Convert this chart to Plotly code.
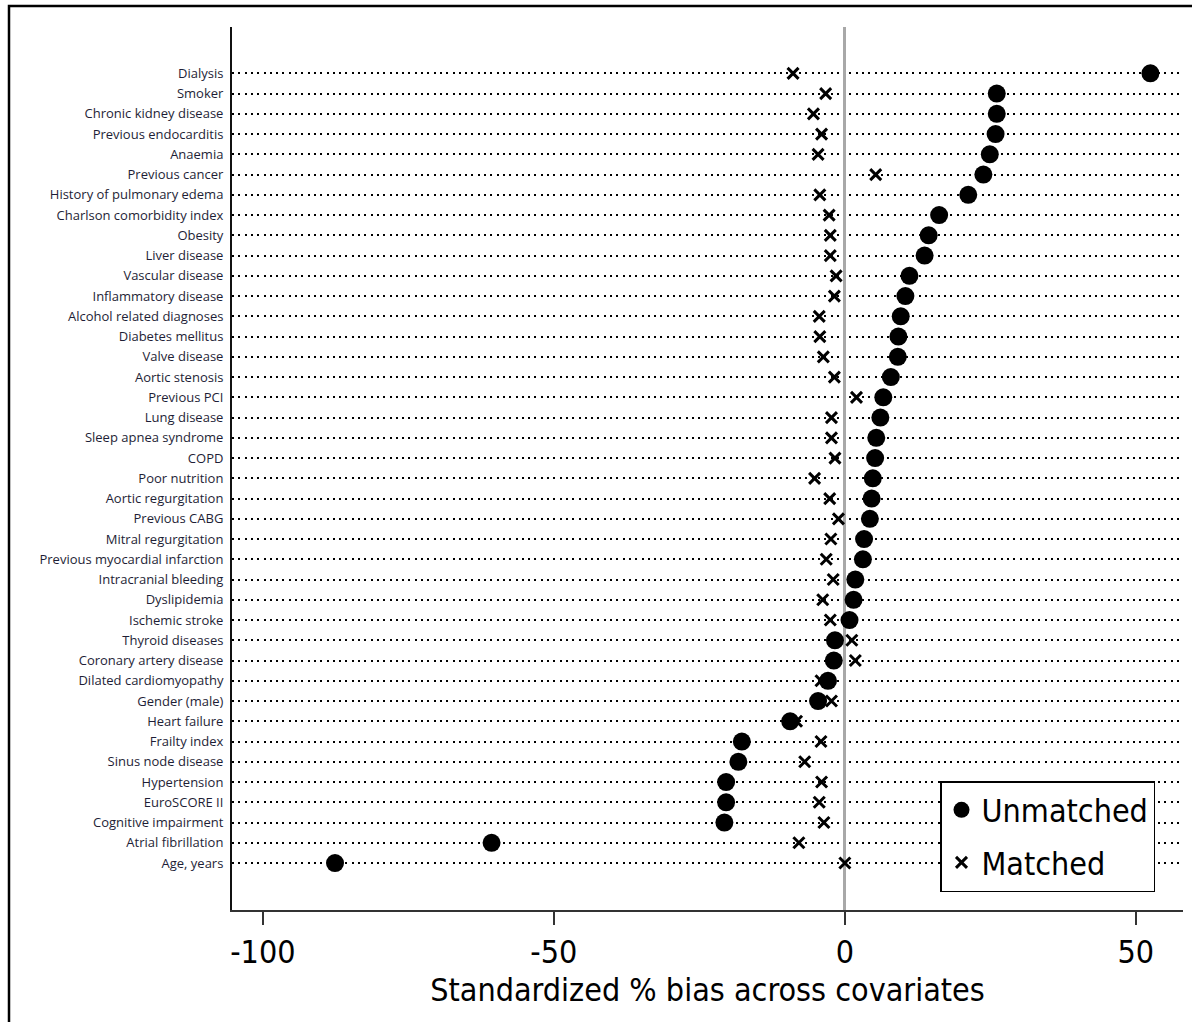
import plotly.graph_objects as go

# Covariates, listed top to bottom as in the chart
covariates = [
    "Dialysis", "Smoker", "Chronic kidney disease", "Previous endocarditis", "Anaemia",
    "Previous cancer", "History of pulmonary edema", "Charlson comorbidity index", "Obesity",
    "Liver disease", "Vascular disease", "Inflammatory disease", "Alcohol related diagnoses",
    "Diabetes mellitus", "Valve disease", "Aortic stenosis", "Previous PCI", "Lung disease",
    "Sleep apnea syndrome", "COPD", "Poor nutrition", "Aortic regurgitation", "Previous CABG",
    "Mitral regurgitation", "Previous myocardial infarction", "Intracranial bleeding",
    "Dyslipidemia", "Ischemic stroke", "Thyroid diseases", "Coronary artery disease",
    "Dilated cardiomyopathy", "Gender (male)", "Heart failure", "Frailty index",
    "Sinus node disease", "Hypertension", "EuroSCORE II", "Cognitive impairment",
    "Atrial fibrillation", "Age, years",
]

unmatched = [
    52.5, 26.1, 26.1, 25.9, 24.9, 23.8, 21.2, 16.2, 14.4, 13.7,
    11.1, 10.4, 9.6, 9.2, 9.1, 7.9, 6.6, 6.1, 5.4, 5.2,
    4.8, 4.6, 4.3, 3.3, 3.1, 1.8, 1.5, 0.8, -1.7, -1.9,
    -2.9, -4.6, -9.4, -17.7, -18.3, -20.4, -20.4, -20.7, -60.7, -87.6,
]

matched = [
    -8.9, -3.3, -5.4, -4.0, -4.6, 5.3, -4.3, -2.7, -2.5, -2.5,
    -1.5, -1.8, -4.4, -4.3, -3.7, -1.8, 2.0, -2.3, -2.3, -1.7,
    -5.2, -2.6, -1.1, -2.4, -3.2, -2.0, -3.8, -2.5, 1.2, 1.8,
    -4.1, -2.3, -8.3, -4.1, -6.9, -4.0, -4.4, -3.6, -7.9, 0.0,
]

x_ticks = [-100, -50, 0, 50]
x_title = "Standardized % bias across covariates"

W, H = 1192, 1022
ML, MR, MT, MB = 232, 9, 27, 112
PW, PH = W - ML - MR, H - MT - MB

def px_to_paper_x(px):
    return (px - ML) / PW

def px_to_paper_y(py):
    return (H - MB - py) / PH

narrow = "Liberation Sans Narrow, Arial Narrow, DejaVu Sans Condensed, sans-serif"

fig = go.Figure()

fig.add_trace(go.Scatter(
    x=matched, y=covariates, mode="markers", name="Matched",
    legendgroup="m", legendrank=2,
    marker=dict(symbol="x-thin", size=11, color="black",
                line=dict(width=3, color="black")),
    hoverinfo="skip",
))
fig.add_trace(go.Scatter(
    x=unmatched, y=covariates, mode="markers", name="Unmatched",
    legendgroup="u", legendrank=1,
    marker=dict(symbol="circle", size=18, color="black", line=dict(width=0)),
    hoverinfo="skip",
))

fig.update_layout(
    width=W, height=H,
    margin=dict(l=ML, r=MR, t=MT, b=MB, pad=0),
    paper_bgcolor="white", plot_bgcolor="white",
    showlegend=True,
    legend=dict(
        x=px_to_paper_x(940), y=px_to_paper_y(781), xanchor="left", yanchor="top",
        bgcolor="white", bordercolor="black", borderwidth=1.5,
        font=dict(family=narrow, size=32, color="black"),
        tracegroupgap=8, itemsizing="trace",
    ),
    xaxis=dict(
        range=[-105.3, 58.1], tickvals=x_ticks, ticktext=[str(v) for v in x_ticks],
        ticks="outside", ticklen=13, tickwidth=1.5, tickcolor="#333",
        showline=True, linecolor="#333", linewidth=2,
        showgrid=False,
        zeroline=True, zerolinecolor="#a8a8a8", zerolinewidth=2.5,
        tickfont=dict(family=narrow, size=32, color="black"),
        title=dict(text=x_title, font=dict(family=narrow, size=32, color="black"),
                   standoff=0),
    ),
    yaxis=dict(
        type="category", categoryorder="array", categoryarray=covariates[::-1],
        range=[-2.32, 41.29],
        showline=True, linecolor="#111", linewidth=2,
        ticks="", ticklabelstandoff=4,
        showgrid=True, gridcolor="black", gridwidth=2, griddash="2px,4.3px",
        zeroline=False,
        tickfont=dict(family="Open Sans, sans-serif", size=13, color="#1e1e36"),
    ),
)

# outer frame of the figure (only left and top visible in the original)
fig.add_shape(
    type="rect", xref="paper", yref="paper",
    x0=px_to_paper_x(9), x1=px_to_paper_x(W + 20),
    y0=px_to_paper_y(H + 20), y1=px_to_paper_y(6),
    line=dict(color="black", width=2.5), fillcolor="rgba(0,0,0,0)", layer="above",
)

fig.write_html("out.html")
